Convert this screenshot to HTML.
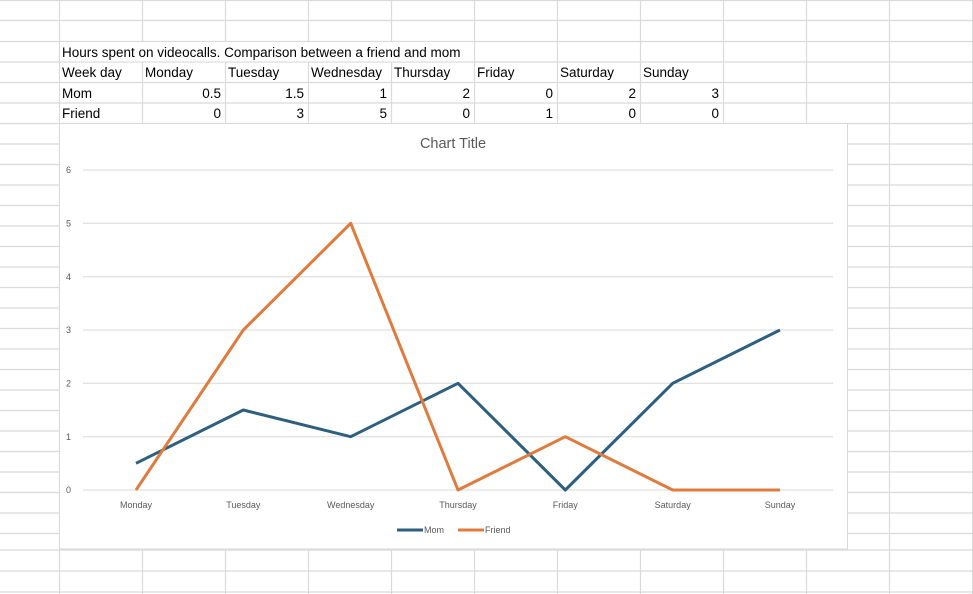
<!DOCTYPE html>
<html><head><meta charset="utf-8"><style>
html,body{margin:0;padding:0;background:#fff}
svg{display:block}
</style></head><body>
<svg width="973" height="594" xmlns="http://www.w3.org/2000/svg" font-family="Liberation Sans, sans-serif">
<rect width="973" height="594" fill="#fff"/>
<g stroke="#dadada" stroke-width="1.2">
<line x1="0" y1="0.5" x2="973" y2="0.5"/>
<line x1="0" y1="20.5" x2="973" y2="20.5"/>
<line x1="0" y1="41.5" x2="973" y2="41.5"/>
<line x1="0" y1="62" x2="973" y2="62"/>
<line x1="0" y1="82.5" x2="973" y2="82.5"/>
<line x1="0" y1="103" x2="973" y2="103"/>
<line x1="0" y1="123.5" x2="973" y2="123.5"/>
<line x1="0" y1="144" x2="973" y2="144"/><line x1="0" y1="164.5" x2="973" y2="164.5"/>
<line x1="0" y1="185" x2="973" y2="185"/><line x1="0" y1="205.5" x2="973" y2="205.5"/>
<line x1="0" y1="226" x2="973" y2="226"/><line x1="0" y1="246.5" x2="973" y2="246.5"/>
<line x1="0" y1="267" x2="973" y2="267"/><line x1="0" y1="287.5" x2="973" y2="287.5"/>
<line x1="0" y1="308" x2="973" y2="308"/><line x1="0" y1="328.5" x2="973" y2="328.5"/>
<line x1="0" y1="349" x2="973" y2="349"/><line x1="0" y1="369.5" x2="973" y2="369.5"/>
<line x1="0" y1="390" x2="973" y2="390"/><line x1="0" y1="410.5" x2="973" y2="410.5"/>
<line x1="0" y1="431" x2="973" y2="431"/><line x1="0" y1="451.5" x2="973" y2="451.5"/>
<line x1="0" y1="472" x2="973" y2="472"/><line x1="0" y1="492.5" x2="973" y2="492.5"/>
<line x1="0" y1="513" x2="973" y2="513"/><line x1="0" y1="533.5" x2="973" y2="533.5"/>
<line x1="0" y1="550" x2="973" y2="550"/><line x1="0" y1="571" x2="973" y2="571"/>
<line x1="0" y1="592" x2="973" y2="592"/>
<line x1="59.5" y1="0" x2="59.5" y2="594"/>
<line x1="142.5" y1="0" x2="142.5" y2="594"/>
<line x1="225.5" y1="0" x2="225.5" y2="594"/>
<line x1="308.5" y1="0" x2="308.5" y2="594"/>
<line x1="391.5" y1="0" x2="391.5" y2="594"/>
<line x1="474.5" y1="0" x2="474.5" y2="594"/>
<line x1="557.5" y1="0" x2="557.5" y2="594"/>
<line x1="640.5" y1="0" x2="640.5" y2="594"/>
<line x1="723.5" y1="0" x2="723.5" y2="594"/>
<line x1="806.5" y1="0" x2="806.5" y2="594"/>
<line x1="889.5" y1="0" x2="889.5" y2="594"/>
<line x1="972.5" y1="0" x2="972.5" y2="594"/>
</g>
<rect x="60" y="42.2" width="411" height="19.3" fill="#fff"/>
<g font-size="13.5" fill="#000">
<text x="62" y="57">Hours spent on videocalls. Comparison between a friend and mom</text>
<text x="62" y="77">Week day</text><text x="145" y="77">Monday</text><text x="228" y="77">Tuesday</text>
<text x="311" y="77">Wednesday</text><text x="394" y="77">Thursday</text><text x="477" y="77">Friday</text>
<text x="560" y="77">Saturday</text><text x="643" y="77">Sunday</text>
<text x="62" y="98">Mom</text><text x="62" y="118">Friend</text>
<g text-anchor="end">
<text x="221" y="98">0.5</text><text x="304" y="98">1.5</text><text x="387" y="98">1</text><text x="470" y="98">2</text>
<text x="553" y="98">0</text><text x="636" y="98">2</text><text x="719" y="98">3</text>
<text x="221" y="118">0</text><text x="304" y="118">3</text><text x="387" y="118">5</text><text x="470" y="118">0</text>
<text x="553" y="118">1</text><text x="636" y="118">0</text><text x="719" y="118">0</text>
</g></g>
<rect x="59.5" y="123.5" width="788" height="425.5" fill="#fff" stroke="#d9d9d9"/>
<text x="453" y="148" text-anchor="middle" font-size="14.5" fill="#595959">Chart Title</text>
<g stroke="#d9d9d9" stroke-width="1">
<line x1="83" y1="170" x2="833" y2="170"/><line x1="83" y1="223.3" x2="833" y2="223.3"/>
<line x1="83" y1="276.7" x2="833" y2="276.7"/><line x1="83" y1="330" x2="833" y2="330"/>
<line x1="83" y1="383.3" x2="833" y2="383.3"/><line x1="83" y1="436.7" x2="833" y2="436.7"/>
<line x1="83" y1="490" x2="833" y2="490"/>
</g>
<g font-size="9" fill="#595959">
<text x="66" y="173">6</text><text x="66" y="226.5">5</text><text x="66" y="280">4</text>
<text x="66" y="333">3</text><text x="66" y="386.5">2</text><text x="66" y="440">1</text><text x="66" y="493">0</text>
<g text-anchor="middle">
<text x="136" y="508">Monday</text><text x="243.3" y="508">Tuesday</text><text x="350.7" y="508">Wednesday</text>
<text x="458" y="508">Thursday</text><text x="565.3" y="508">Friday</text><text x="672.7" y="508">Saturday</text>
<text x="780" y="508">Sunday</text></g>
<text x="424" y="533">Mom</text><text x="485" y="533">Friend</text>
</g>
<line x1="397" y1="530" x2="423" y2="530" stroke="#2e5f7f" stroke-width="3"/>
<line x1="458" y1="530" x2="484" y2="530" stroke="#e07b3e" stroke-width="3"/>
<polyline fill="none" stroke="#2e5f7f" stroke-width="3" stroke-linejoin="round"
points="136,463.3 243.3,410 350.7,436.7 458,383.3 565.3,490 672.7,383.3 780,330"/>
<polyline fill="none" stroke="#e07b3e" stroke-width="3" stroke-linejoin="round"
points="136,490 243.3,330 350.7,223.3 458,490 565.3,436.7 672.7,490 780,490"/>
</svg>
</body></html>
